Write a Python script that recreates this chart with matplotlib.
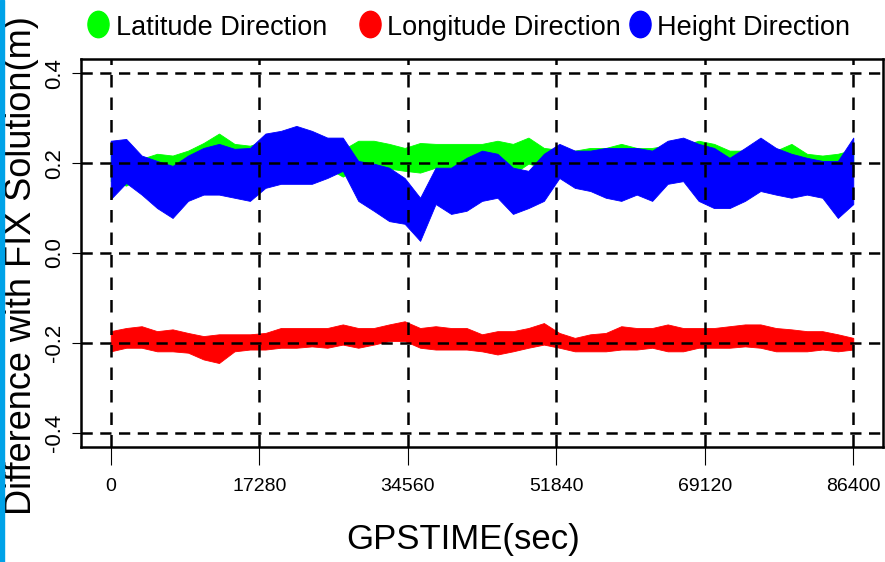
import matplotlib
matplotlib.use("Agg")
import matplotlib.pyplot as plt
import numpy as np
from matplotlib.lines import Line2D
from matplotlib.markers import MarkerStyle
from matplotlib.patches import Rectangle
from matplotlib.transforms import Affine2D

# GPS time of each read-off point (every 1800 s)
gps_time = np.arange(0, 86401, 1800)

# envelopes (m)
lat_hi = [0.240, 0.230, 0.210, 0.221, 0.217, 0.228, 0.245, 0.266, 0.243, 0.239,
          0.250, 0.250, 0.250, 0.245, 0.250, 0.230, 0.250, 0.250, 0.243, 0.234,
          0.245, 0.243, 0.243, 0.243, 0.243, 0.250, 0.243, 0.257, 0.234, 0.230,
          0.228, 0.234, 0.234, 0.243, 0.234, 0.234, 0.240, 0.240, 0.250, 0.243,
          0.228, 0.228, 0.240, 0.228, 0.243, 0.221, 0.217, 0.221, 0.230]
lat_lo = [0.160, 0.150, 0.170, 0.176, 0.172, 0.180, 0.199, 0.205, 0.200, 0.200,
          0.190, 0.190, 0.190, 0.190, 0.190, 0.170, 0.190, 0.195, 0.188, 0.183,
          0.179, 0.190, 0.190, 0.190, 0.190, 0.190, 0.176, 0.199, 0.190, 0.180,
          0.190, 0.185, 0.190, 0.200, 0.190, 0.185, 0.190, 0.190, 0.190, 0.190,
          0.190, 0.190, 0.190, 0.190, 0.190, 0.190, 0.183, 0.180, 0.180]

lon_hi = [-0.174, -0.167, -0.163, -0.174, -0.170, -0.178, -0.185, -0.181, -0.181, -0.181,
          -0.178, -0.167, -0.167, -0.167, -0.167, -0.159, -0.167, -0.167, -0.159, -0.152,
          -0.167, -0.163, -0.167, -0.167, -0.181, -0.174, -0.174, -0.167, -0.156, -0.178,
          -0.189, -0.181, -0.178, -0.163, -0.167, -0.167, -0.159, -0.167, -0.167, -0.167,
          -0.163, -0.159, -0.159, -0.167, -0.170, -0.174, -0.174, -0.181, -0.189]
lon_lo = [-0.219, -0.211, -0.211, -0.219, -0.219, -0.222, -0.237, -0.245, -0.219, -0.215,
          -0.215, -0.211, -0.211, -0.208, -0.211, -0.204, -0.211, -0.204, -0.196, -0.196,
          -0.211, -0.215, -0.215, -0.215, -0.219, -0.226, -0.219, -0.211, -0.204, -0.211,
          -0.219, -0.219, -0.219, -0.215, -0.215, -0.211, -0.219, -0.219, -0.211, -0.211,
          -0.211, -0.208, -0.211, -0.219, -0.219, -0.219, -0.215, -0.219, -0.215]

hgt_hi = [0.250, 0.254, 0.217, 0.205, 0.194, 0.217, 0.234, 0.243, 0.232, 0.234,
          0.266, 0.272, 0.283, 0.272, 0.257, 0.257, 0.205, 0.199, 0.190, 0.167,
          0.123, 0.190, 0.190, 0.212, 0.228, 0.221, 0.190, 0.183, 0.221, 0.243,
          0.228, 0.228, 0.234, 0.234, 0.234, 0.228, 0.250, 0.257, 0.243, 0.234,
          0.212, 0.234, 0.257, 0.234, 0.221, 0.212, 0.205, 0.205, 0.257]
hgt_lo = [0.120, 0.156, 0.130, 0.100, 0.078, 0.116, 0.130, 0.130, 0.123, 0.116,
          0.145, 0.154, 0.154, 0.154, 0.167, 0.183, 0.116, 0.094, 0.071, 0.065,
          0.027, 0.109, 0.087, 0.094, 0.116, 0.123, 0.087, 0.100, 0.116, 0.167,
          0.145, 0.138, 0.123, 0.116, 0.130, 0.116, 0.154, 0.160, 0.116, 0.100,
          0.100, 0.116, 0.138, 0.130, 0.123, 0.130, 0.123, 0.078, 0.109]

series_names = ["Latitude Direction", "Longitude Direction", "Height Direction"]
series_colors = ["#00FF00", "#FF0000", "#0000FF"]
x_ticks = [0, 17280, 34560, 51840, 69120, 86400]
y_ticks = [-0.4, -0.2, 0.0, 0.2, 0.4]
y_tick_labels = ["-0.4", "-0.2", "0.0", "0.2", "0.4"]

plt.rcParams["font.family"] = ["Liberation Sans", "DejaVu Sans"]

W, H = 885, 562
fig = plt.figure(figsize=(W / 100, H / 100), dpi=100)
ax = fig.add_axes([81 / W, 1 - 447 / H, (883 - 81) / W, (447 - 59) / H])

bands = [(lat_lo, lat_hi), (lon_lo, lon_hi), (hgt_lo, hgt_hi)]
for (lo, hi), c in zip(bands, series_colors):
    ax.fill_between(gps_time, lo, hi, color=c, linewidth=0.6, edgecolor=c, zorder=2)

# dashed reference lines on top of the data
for yv in y_ticks:
    ax.axhline(yv, color="black", lw=1.8, dashes=(4.5, 3), zorder=3)
for xv in x_ticks:
    ax.axvline(xv, color="black", lw=1.8, dashes=(5, 4), zorder=3)

ax.set_xlim(-3456, 89856)
ax.set_ylim(-0.432, 0.432)
for s in ax.spines.values():
    s.set_linewidth(1.8)

ax.set_xticks(x_ticks)
ax.set_xticklabels([str(v) for v in x_ticks], fontsize=14)
ax.tick_params(axis="x", length=13, width=0.8, pad=9)
ax.set_yticks(y_ticks)
ax.set_yticklabels(y_tick_labels, rotation=90, va="center", fontsize=16)
ax.tick_params(axis="y", length=6.5, width=0.8, pad=5)

# legend drawn in a row above the box
mk = MarkerStyle("o", transform=Affine2D().scale(0.8, 1.0))
legend_marker_x = [98, 370, 640]
legend_text_x = [116, 387, 657]
for name, c, mx, tx in zip(series_names, series_colors, legend_marker_x, legend_text_x):
    fig.add_artist(Line2D([mx / W], [1 - 24 / H], marker=mk, markersize=19,
                          color=c, linestyle="none", transform=fig.transFigure))
    fig.text(tx / W, 1 - 35 / H, name, fontsize=19.5, ha="left", va="baseline")

fig.text(22 / W, 1 - 266 / H, "Difference with FIX Solution(m)", rotation=90,
         fontsize=26, ha="center", va="center")
fig.text(463 / W, 1 - 540 / H, "GPSTIME(sec)", fontsize=25, ha="center", va="center")

fig.add_artist(Rectangle((0, 0), 4 / W, 1, color="#00A2E8",
                         transform=fig.transFigure, zorder=5))

fig.savefig("out.png", dpi=100)
